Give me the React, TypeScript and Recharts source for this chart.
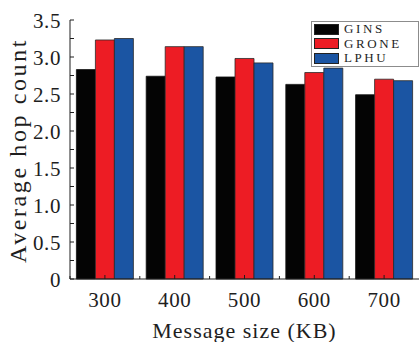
import React from 'react';
import { BarChart, Bar, XAxis, YAxis, Legend } from 'recharts';

// Message sizes (KB) on the category axis
const sizes = ['300', '400', '500', '600', '700'];

// Average hop count per scheme
const gins = [2.83, 2.74, 2.73, 2.63, 2.49];
const grone = [3.23, 3.14, 2.98, 2.79, 2.7];
const lphu = [3.25, 3.14, 2.92, 2.85, 2.68];

// Value-axis ticks (labels on every 0.5, minor marks on every 0.25)
const yTicks = [0, 0.25, 0.5, 0.75, 1, 1.25, 1.5, 1.75, 2, 2.25, 2.5, 2.75, 3, 3.25, 3.5];

const data = sizes.map((size, i) => ({
  size,
  GINS: gins[i],
  GRONE: grone[i],
  LPHU: lphu[i],
}));

const W = 420;
const H = 342;
const MARGIN = { top: 20, right: 1, bottom: 0, left: 0 };
const Y_AXIS_W = 70;
const X_AXIS_H = 63;
const BAND = (W - MARGIN.left - MARGIN.right - Y_AXIS_W) / sizes.length;

const FONT = '"Liberation Serif", "Times New Roman", serif';
const INK = '#1e1e1e';

const YTick = (props: any) => {
  const { x, y, payload } = props;
  const v = payload.value as number;
  const major = Math.abs(v * 2 - Math.round(v * 2)) < 1e-6;
  return (
    <g>
      <line x1={x} x2={x + 4} y1={y} y2={y} stroke={INK} strokeWidth={1} />
      {major && (
        <text
          x={x - 9}
          y={y}
          dy={7.5}
          textAnchor="end"
          fontFamily={FONT}
          fontSize={21}
          letterSpacing={0.6}
          fill={INK}
        >
          {v === 0 ? '0' : v.toFixed(1)}
        </text>
      )}
    </g>
  );
};

const XTick = (props: any) => {
  const { x, y, payload } = props;
  const left = x - BAND / 2;
  return (
    <g>
      <line x1={x} x2={x} y1={y} y2={y - 4} stroke={INK} strokeWidth={1} />
      <line x1={left} x2={left} y1={y} y2={y - 3} stroke={INK} strokeWidth={1} />
      <text
        x={x}
        y={y}
        dy={27.5}
        textAnchor="middle"
        fontFamily={FONT}
        fontSize={21}
        letterSpacing={0.6}
        fill={INK}
      >
        {payload.value}
      </text>
    </g>
  );
};

const YTitle = (props: any) => {
  const { viewBox } = props;
  const cx = viewBox.x + 18;
  const cy = viewBox.y + viewBox.height / 2 + 1;
  return (
    <text
      x={cx}
      y={cy}
      transform={`rotate(-90 ${cx} ${cy})`}
      textAnchor="middle"
      dominantBaseline="central"
      fontFamily={FONT}
      fontSize={24}
      letterSpacing={2.6}
      fill={INK}
    >
      Average hop count
    </text>
  );
};

const XTitle = (props: any) => {
  const { viewBox } = props;
  const cx = viewBox.x + viewBox.width / 2;
  return (
    <text
      x={cx}
      y={viewBox.y + viewBox.height - 4.5}
      textAnchor="middle"
      fontFamily={FONT}
      fontSize={22}
      letterSpacing={1}
      fill={INK}
    >
      Message size (KB)
    </text>
  );
};

const ROW_H = 14.5;

const LegendBox = (props: any) => {
  const { payload } = props;
  return (
    <div
      style={{
        border: '1px solid #8c8c8c',
        background: '#fff',
        boxSizing: 'border-box',
        width: 108,
        height: ROW_H * 3 + 2,
        padding: '0 0 0 2px',
        fontFamily: FONT,
        fontSize: 13,
        color: INK,
      }}
    >
      {(payload || []).map((p: any) => (
        <div
          key={p.value}
          style={{ display: 'flex', alignItems: 'center', height: ROW_H, lineHeight: `${ROW_H}px` }}
        >
          <span
            style={{
              display: 'inline-block',
              width: 23,
              height: 9,
              background: p.color,
              border: '1px solid #222',
              marginRight: 5,
              flex: 'none',
            }}
          />
          <span style={{ letterSpacing: 2.6 }}>{p.value}</span>
        </div>
      ))}
    </div>
  );
};

export default function App() {
  return (
    <div style={{ position: 'absolute', left: 0, top: 0, width: W, height: H, background: '#fff' }}>
      <BarChart
        width={W}
        height={H}
        data={data}
        margin={MARGIN}
        barGap={0}
        barCategoryGap={6.4}
      >
        <XAxis
          dataKey="size"
          height={X_AXIS_H}
          axisLine={{ stroke: INK, strokeWidth: 1 }}
          tickLine={false}
          tickSize={0}
          tickMargin={0}
          tick={<XTick />}
          interval={0}
          label={{ content: <XTitle /> }}
        />
        <XAxis
          xAxisId="top"
          dataKey="size"
          orientation="top"
          height={0}
          axisLine={{ stroke: INK, strokeWidth: 1 }}
          tickLine={false}
          tick={false}
        />
        <YAxis
          width={Y_AXIS_W}
          domain={[0, 3.5]}
          ticks={yTicks}
          interval={0}
          axisLine={{ stroke: INK, strokeWidth: 1 }}
          tickLine={false}
          tickSize={0}
          tickMargin={0}
          tick={<YTick />}
          label={{ content: <YTitle /> }}
        />
        <YAxis
          yAxisId="right"
          orientation="right"
          width={0}
          domain={[0, 3.5]}
          axisLine={{ stroke: '#8c8c8c', strokeWidth: 1 }}
          tickLine={false}
          tick={false}
        />
        <Legend
          layout="horizontal"
          verticalAlign="middle"
          align="center"
          content={<LegendBox />}
          wrapperStyle={{ top: 21, left: 311, width: 108, height: ROW_H * 3 + 2 }}
        />
        <Bar dataKey="GINS" fill="#040404" stroke="#111" strokeWidth={0.8} isAnimationActive={false} />
        <Bar dataKey="GRONE" fill="#ED1C24" stroke="#2a2a2a" strokeWidth={0.8} isAnimationActive={false} />
        <Bar dataKey="LPHU" fill="#1B55A3" stroke="#2a2a2a" strokeWidth={0.8} isAnimationActive={false} />
      </BarChart>
    </div>
  );
}
